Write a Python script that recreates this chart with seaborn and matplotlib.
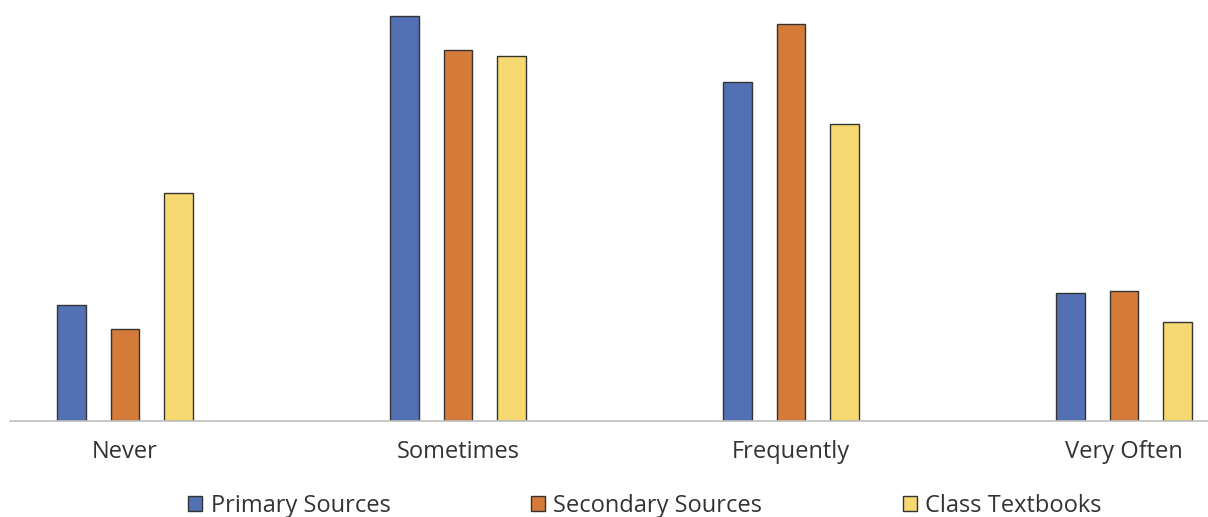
import matplotlib
matplotlib.use("Agg")
import matplotlib.pyplot as plt
import seaborn as sns
import pandas as pd

categories = ["Never", "Sometimes", "Frequently", "Very Often"]
series_names = ["Primary Sources", "Secondary Sources", "Class Textbooks"]
primary = [11.7, 40.9, 34.3, 12.9]
secondary = [9.3, 37.5, 40.1, 13.1]
textbooks = [23.1, 36.9, 30.0, 10.0]
colors = ["#5470B5", "#D57B3A", "#F5D970"]

rows = []
for name, vals in zip(series_names, [primary, secondary, textbooks]):
    for cat, v in zip(categories, vals):
        rows.append({"category": cat, "source": name, "share": v})
df = pd.DataFrame(rows)

sns.set_theme(style="white")
plt.rcParams["font.family"] = ["Open Sans", "DejaVu Sans"]

fig = plt.figure(figsize=(12.08, 5.17), dpi=100)
ax = fig.add_axes([10 / 1208, 96 / 517, 1198 / 1208, 421 / 517])

sns.barplot(data=df, x="category", y="share", hue="source",
            order=categories, hue_order=series_names, palette=colors,
            width=0.482, gap=0.46, edgecolor="#333333", linewidth=1.0,
            saturation=1, legend=True, ax=ax)

ax.set_xlim((10 - 125) / 333, (1208 - 125) / 333)
ax.set_ylim(0, 421 / 9.89)
ax.set_xlabel("")
ax.set_ylabel("")
ax.set_yticks([])
for s in ["left", "right", "top"]:
    ax.spines[s].set_visible(False)
ax.spines["bottom"].set_color("#BFBFBF")
ax.spines["bottom"].set_linewidth(1.2)
ax.tick_params(axis="x", length=0, pad=14, labelsize=17, labelcolor="#333333")

handles, labels = ax.get_legend_handles_labels()
ax.legend_.remove()
fig.legend(handles, labels, loc="center", bbox_to_anchor=(645 / 1208, 1 - 506 / 517),
           ncol=3, frameon=False, fontsize=17, handlelength=0.6, handleheight=0.6,
           handletextpad=0.35, columnspacing=5.95, labelcolor="#333333")

fig.savefig("out.png", dpi=100)
